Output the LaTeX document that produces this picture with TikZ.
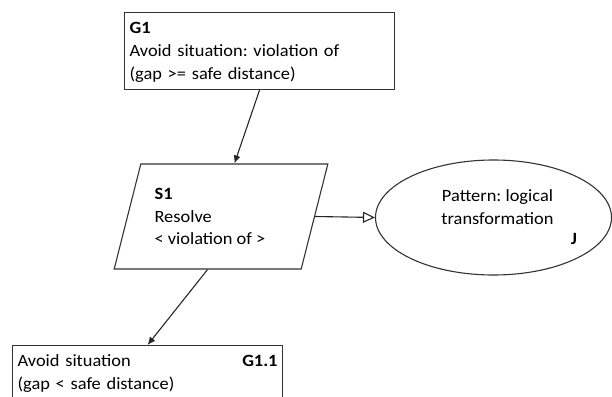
\documentclass[tikz,border=0pt]{standalone}
\usepackage{fontspec}
\setmainfont{Carlito}[FakeStretch=1.07]
\usetikzlibrary{shapes.geometric,arrows.meta,positioning}
\newcommand{\topgap}{\rule{0pt}{21pt}}
\newcommand{\botgap}{\rule[-10.4pt]{0pt}{10.4pt}}
\frenchspacing
\begin{document}
\begin{tikzpicture}[x=1pt,y=-1pt,line width=1.1pt,
	font=\fontsize{17.2}{22.8}\selectfont,
	goal/.style={draw=black!80,rectangle,anchor=north west,align=left,text width=260pt,inner xsep=5pt,inner ysep=0pt},
	strategy/.style={draw=black!80,trapezium,trapezium left angle=70,trapezium right angle=110,trapezium stretches=true,minimum width=214pt,minimum height=105pt,align=left},
	link/.style={draw=black!85,-{Latex[length=8pt,width=7pt]}}]
	\clip (0,0) rectangle (612,396); %frame
	
	%goals
	\node[goal] (g1) at (124,12) {\topgap\textbf{G1}\\Avoid situation: violation of\\(gap >= safe distance)\botgap};
	\node[goal] (g11) at (12,345) {\topgap Avoid situation\hfill\textbf{G1.1}\hspace*{18pt}\\(gap < safe distance)\\ \botgap};
	
	%strategy
	\node[strategy] (s1) at (221,216.5) {\textbf{S1}\\Resolve\\< violation of >\hspace*{22pt}};
	
	%justification
	\node[draw=black!80,ellipse,minimum width=236pt,minimum height=115pt,inner sep=0pt] (pat) at (493.5,217.5) {};
	\node[align=center] (pattxt) at (497.5,207) {Pattern: logical\\transformation};
	\node (jlab) at (574,239) {\textbf{J}};
	
	%connectors
	\draw[link] (g1.south) -- (s1.top side);
	\draw[link] (s1.bottom side) -- (g11.north);
	\draw[draw=black!85,-{Triangle[open,length=12pt,width=11pt]}] (s1.right side) -- (pat.west); %in context of
\end{tikzpicture}
\end{document}
